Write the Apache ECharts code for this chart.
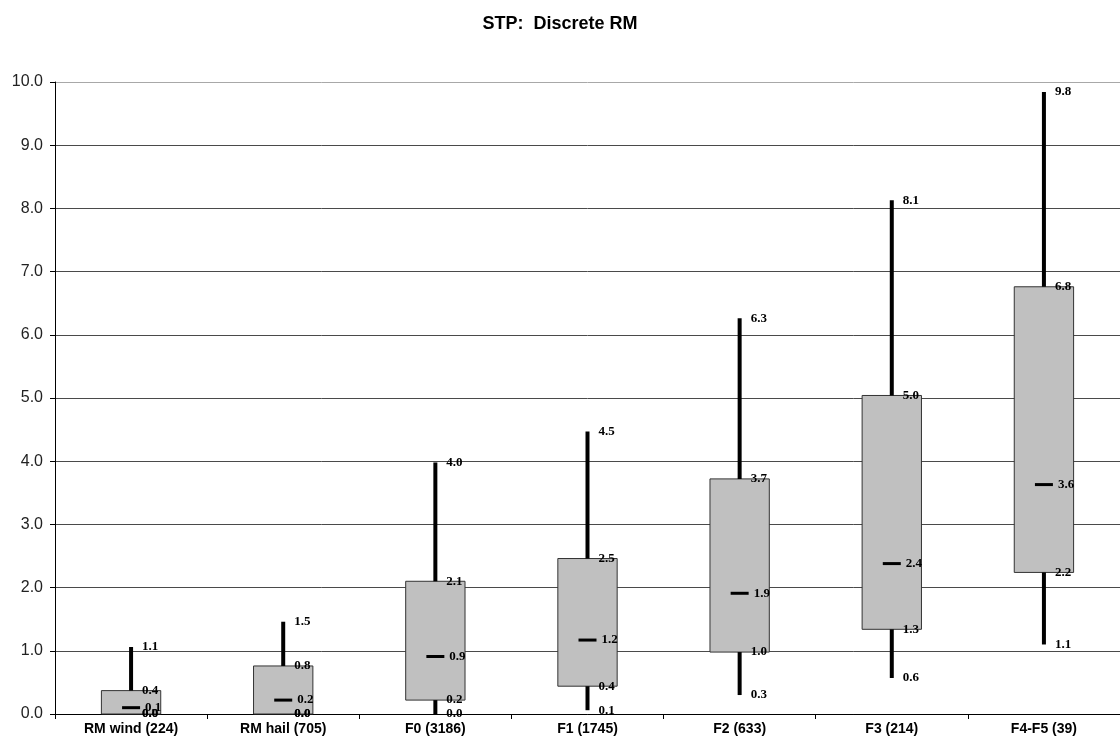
<!DOCTYPE html>
<html>
<head>
<meta charset="utf-8">
<script src="https://cdn.jsdelivr.net/npm/echarts@6/dist/echarts.min.js"></script>
<style>html,body{margin:0;padding:0;background:#fff}#c{width:1120px;height:745px}</style>
</head>
<body>
<div id="c"></div>
<script>
var categories = ['RM wind (224)', 'RM hail (705)', 'F0 (3186)', 'F1 (1745)', 'F2 (633)', 'F3 (214)', 'F4-F5 (39)'];
var whiskerLow  = [0.00, 0.00, 0.00, 0.06, 0.30, 0.57, 1.10];
var boxLow      = [0.00, 0.00, 0.22, 0.44, 0.98, 1.34, 2.24];
var medianVals  = [0.10, 0.22, 0.91, 1.17, 1.91, 2.38, 3.63];
var boxHigh     = [0.37, 0.76, 2.10, 2.46, 3.72, 5.04, 6.76];
var whiskerHigh = [1.06, 1.46, 3.98, 4.47, 6.26, 8.13, 9.84];
var yTicks = [0, 1, 2, 3, 4, 5, 6, 7, 8, 9, 10];

var chart = echarts.init(document.getElementById('c'));
var data = categories.map(function (c, i) {
  return [i, whiskerLow[i], boxLow[i], medianVals[i], boxHigh[i], whiskerHigh[i]];
});
var labelFont = 'bold 13px "Liberation Serif", "DejaVu Serif", serif';

function renderItem(params, api) {
  var i = api.value(0);
  var lo = api.value(1), bl = api.value(2), md = api.value(3), bh = api.value(4), hi = api.value(5);
  var bw = api.size([1, 0])[0];
  var x = api.coord([i, 0])[0];
  var yLo = api.coord([i, lo])[1], yBl = api.coord([i, bl])[1], yMd = api.coord([i, md])[1],
      yBh = api.coord([i, bh])[1], yHi = api.coord([i, hi])[1];
  var w = bw * 0.39;
  var children = [];
  children.push({type: 'rect', shape: {x: x - w / 2, y: yBh, width: w, height: yBl - yBh},
    style: {fill: '#c0c0c0', stroke: '#333', lineWidth: 1}});
  if (yLo - yBl > 0.5) children.push({type: 'line', shape: {x1: x, y1: yBl, x2: x, y2: yLo},
    style: {stroke: '#000', lineWidth: 4}});
  children.push({type: 'line', shape: {x1: x, y1: yHi, x2: x, y2: yBh},
    style: {stroke: '#000', lineWidth: 4}});
  children.push({type: 'line', shape: {x1: x - 9, y1: yMd, x2: x + 9, y2: yMd},
    style: {stroke: '#000', lineWidth: 3}});
  var labs = [[lo, yLo, 11], [bl, yBl, 11], [md, yMd, 14], [bh, yBh, 11], [hi, yHi, 11]];
  labs.forEach(function (l) {
    children.push({type: 'text', style: {text: l[0].toFixed(1), x: x + l[2], y: l[1],
      font: labelFont, fill: '#000', textVerticalAlign: 'middle', verticalAlign: 'middle', align: 'left'}});
  });
  return {type: 'group', children: children};
}

var gridColors = yTicks.map(function (t) { return t === 10 ? '#a8a8a8' : '#4a4a4a'; });

chart.setOption({
  animation: false,
  backgroundColor: '#fff',
  title: {
    text: 'STP:  Discrete RM', left: 'center', top: 10,
    textStyle: {fontFamily: '"Liberation Sans", Arial, sans-serif', fontSize: 18, fontWeight: 'bold', color: '#000'}
  },
  grid: {left: 55, right: -2, top: 82, bottom: 31, containLabel: false},
  xAxis: {
    type: 'category', data: categories, boundaryGap: true,
    axisLine: {lineStyle: {color: '#000', width: 1}},
    axisTick: {show: true, length: 5, lineStyle: {color: '#000'}},
    axisLabel: {margin: 8, fontFamily: '"Liberation Sans", Arial, sans-serif', fontSize: 14, fontWeight: 'bold', color: '#000', interval: 0},
    splitLine: {show: false}
  },
  yAxis: {
    type: 'value', min: 0, max: 10, interval: 1,
    axisLine: {show: true, lineStyle: {color: '#000', width: 1}},
    axisTick: {show: true, length: 5, lineStyle: {color: '#000'}},
    axisLabel: {margin: 12, fontFamily: '"Liberation Sans", Arial, sans-serif', fontSize: 16, color: '#222',
      formatter: function (v) { return v.toFixed(1); }},
    splitLine: {show: true, lineStyle: {color: gridColors, width: 1}}
  },
  series: [{
    type: 'custom', renderItem: renderItem, data: data, clip: false,
    encode: {x: 0, y: [1, 2, 3, 4, 5]}, z: 3
  }]
});
</script>
</body>
</html>
